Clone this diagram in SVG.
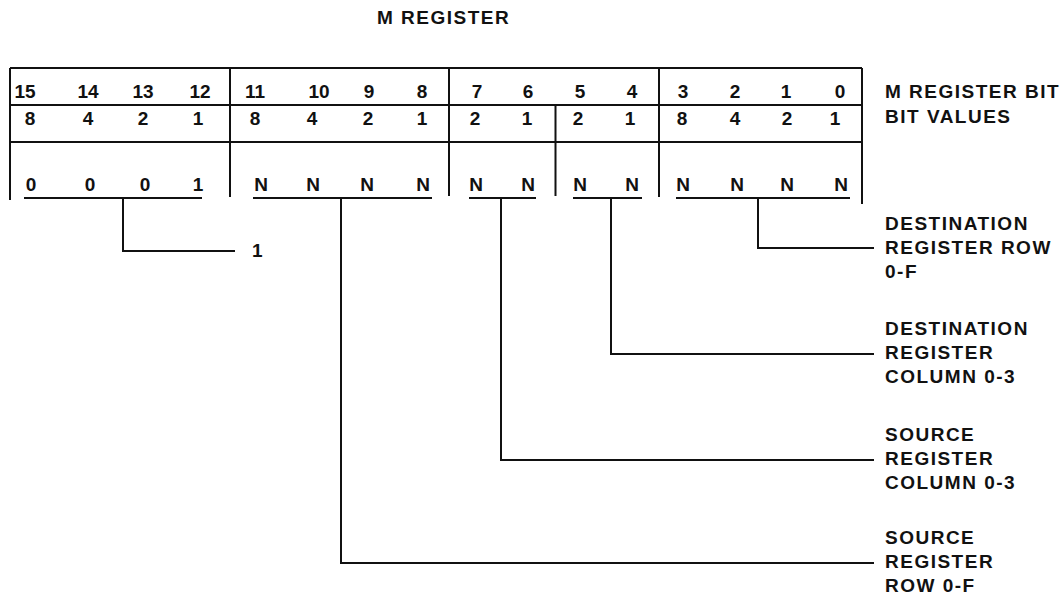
<svg xmlns="http://www.w3.org/2000/svg" width="1064" height="597" viewBox="0 0 1064 597">
<style>
  text { font-family: "Liberation Sans", Arial, sans-serif; font-weight: bold; font-size: 19px; fill: #111; }
  .num { text-anchor: middle; }
  .lbl { letter-spacing: 1.5px; }
  .ln { stroke: #111; stroke-width: 2; fill: none; }
</style>
<rect width="1064" height="597" fill="#fff"/>

<g id="title">
  <text class="lbl" x="377" y="24">M REGISTER</text>
</g>

<g id="register-frame">
  <path class="ln" d="M10,68 H862 M10,105 H862 M10,142 H862"/>
  <path class="ln" d="M10,68 V200 M230,68 V197 M449,68 V196 M555.5,105 V196 M659,68 V197 M862,68 V204"/>
</g>

<g id="row-bit-numbers">
  <text class="num" x="25" y="98">15</text>
  <text class="num" x="88" y="98">14</text>
  <text class="num" x="143" y="98">13</text>
  <text class="num" x="200" y="98">12</text>
  <text class="num" x="255" y="98">11</text>
  <text class="num" x="319" y="98">10</text>
  <text class="num" x="369" y="98">9</text>
  <text class="num" x="422" y="98">8</text>
  <text class="num" x="477" y="98">7</text>
  <text class="num" x="528" y="98">6</text>
  <text class="num" x="580" y="98">5</text>
  <text class="num" x="632" y="98">4</text>
  <text class="num" x="683" y="98">3</text>
  <text class="num" x="735" y="98">2</text>
  <text class="num" x="786" y="98">1</text>
  <text class="num" x="840" y="98">0</text>
</g>

<g id="row-bit-values">
  <text class="num" x="30" y="125">8</text>
  <text class="num" x="88" y="125">4</text>
  <text class="num" x="143" y="125">2</text>
  <text class="num" x="198" y="125">1</text>
  <text class="num" x="255" y="125">8</text>
  <text class="num" x="312" y="125">4</text>
  <text class="num" x="368" y="125">2</text>
  <text class="num" x="422" y="125">1</text>
  <text class="num" x="475" y="125">2</text>
  <text class="num" x="527" y="125">1</text>
  <text class="num" x="578" y="125">2</text>
  <text class="num" x="630" y="125">1</text>
  <text class="num" x="682" y="125">8</text>
  <text class="num" x="735" y="125">4</text>
  <text class="num" x="787" y="125">2</text>
  <text class="num" x="835" y="125">1</text>
</g>

<g id="row-contents">
  <text class="num" x="31" y="191">0</text>
  <text class="num" x="90" y="191">0</text>
  <text class="num" x="145" y="191">0</text>
  <text class="num" x="198" y="191">1</text>
  <text class="num" x="261" y="191">N</text>
  <text class="num" x="313" y="191">N</text>
  <text class="num" x="367" y="191">N</text>
  <text class="num" x="423" y="191">N</text>
  <text class="num" x="476" y="191">N</text>
  <text class="num" x="528" y="191">N</text>
  <text class="num" x="580" y="191">N</text>
  <text class="num" x="632" y="191">N</text>
  <text class="num" x="683" y="191">N</text>
  <text class="num" x="737" y="191">N</text>
  <text class="num" x="787" y="191">N</text>
  <text class="num" x="841" y="191">N</text>
</g>

<g id="row-labels">
  <text class="lbl" x="885" y="98">M REGISTER BIT</text>
  <text class="lbl" x="885" y="123">BIT VALUES</text>
</g>

<g id="connectors">
  <path class="ln" d="M24,198 H202 M253,198 H432 M469,198 H536 M573,198 H642 M676,198 H850"/>
  <path class="ln" d="M123,198 V251 H235"/>
  <path class="ln" d="M758,198 V248 H874"/>
  <path class="ln" d="M611,198 V354 H874"/>
  <path class="ln" d="M501,198 V460 H874"/>
  <path class="ln" d="M341,198 V563 H874"/>
</g>

<g id="label-value-1">
  <text x="252" y="257">1</text>
</g>

<g id="label-dest-row">
  <text class="lbl" x="885" y="230">DESTINATION</text>
  <text class="lbl" x="885" y="254">REGISTER ROW</text>
  <text class="lbl" x="885" y="278">0-F</text>
</g>

<g id="label-dest-col">
  <text class="lbl" x="885" y="335">DESTINATION</text>
  <text class="lbl" x="885" y="359">REGISTER</text>
  <text class="lbl" x="885" y="383">COLUMN 0-3</text>
</g>

<g id="label-src-col">
  <text class="lbl" x="885" y="441">SOURCE</text>
  <text class="lbl" x="885" y="465">REGISTER</text>
  <text class="lbl" x="885" y="489">COLUMN 0-3</text>
</g>

<g id="label-src-row">
  <text class="lbl" x="885" y="544">SOURCE</text>
  <text class="lbl" x="885" y="568">REGISTER</text>
  <text class="lbl" x="885" y="592">ROW 0-F</text>
</g>
</svg>
